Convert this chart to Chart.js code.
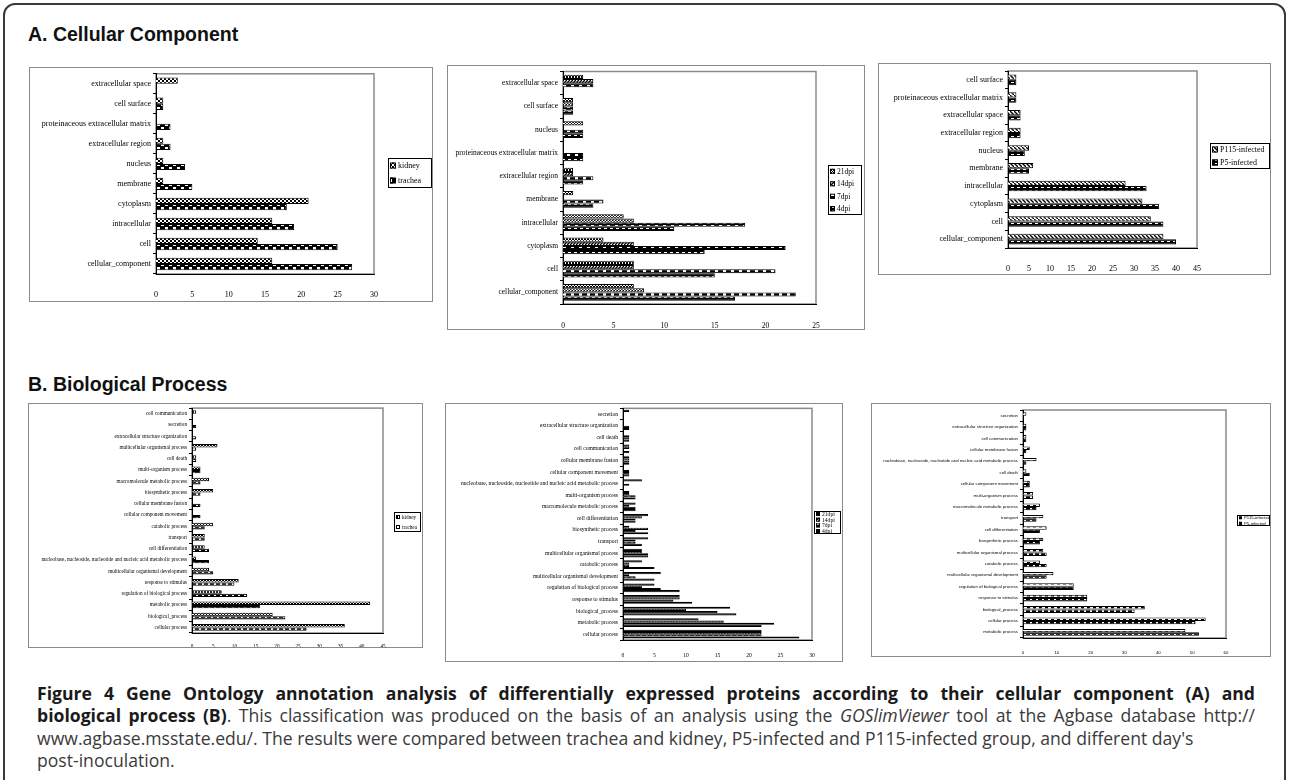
<!DOCTYPE html>
<html>
<head>
<meta charset="utf-8">
<script src="https://cdn.jsdelivr.net/npm/chart.js@4.4.1/dist/chart.umd.min.js"></script>
<style>
body{margin:0;width:1290px;height:780px;background:#fff;position:relative;overflow:hidden;font-family:"Open Sans",sans-serif}
.frame{position:absolute;left:3px;top:3px;width:1279px;height:900px;border:2px solid #3a3a3a;border-radius:12px}
.head{position:absolute;left:28px;font:bold 19.5px/22px "Liberation Sans",Arial,sans-serif;color:#111;white-space:nowrap}
.box{position:absolute;border:1px solid #8a8a8a;box-sizing:border-box}
.cap{position:absolute;left:37px;top:682px;width:1218px;font-size:17.6px;line-height:22.4px;color:#3a3a3a;white-space:nowrap}
.cap b{color:#1a1a1a}
.cap .j{text-align:justify;text-align-last:justify}
</style>
</head>
<body>
<div class="frame"></div>
<div class="head" style="top:23px">A. Cellular Component</div>
<div class="head" style="top:373px">B. Biological Process</div>
<div class="cap">
<div class="j"><b>Figure 4 Gene Ontology annotation analysis of differentially expressed proteins according to their cellular component (A) and</b></div>
<div class="j"><b>biological process (B)</b>. This classification was produced on the basis of an analysis using the <i>GOSlimViewer</i> tool at the Agbase database http://</div>
<div>www.agbase.msstate.edu/. The results were compared between trachea and kidney, P5-infected and P115-infected group, and different day's</div>
<div>post-inoculation.</div>
</div>
<script>
// A. cellular component, trachea vs kidney
const ccTissueCats = ['extracellular space', 'cell surface', 'proteinaceous extracellular matrix', 'extracellular region',
    'nucleus', 'membrane', 'cytoplasm', 'intracellular', 'cell', 'cellular_component'];
const ccKidney  = [3, 1, 0, 1, 1, 1, 21, 16, 14, 16];
const ccTrachea = [0, 1, 2, 2, 4, 5, 18, 19, 25, 27];
const ccTissueTicks = [0, 5, 10, 15, 20, 25, 30];

// A. cellular component, by day post-inoculation
const ccDayCats = ['extracellular space', 'cell surface', 'nucleus', 'proteinaceous extracellular matrix',
    'extracellular region', 'membrane', 'intracellular', 'cytoplasm', 'cell', 'cellular_component'];
const ccDay21 = [2, 1, 2, 0, 1, 1, 6, 4, 7, 7];
const ccDay14 = [3, 1, 0, 0, 1, 0, 7, 7, 7, 8];
const ccDay7  = [3, 1, 2, 2, 3, 4, 18, 22, 21, 23];
const ccDay4  = [0, 1, 2, 2, 2, 3, 11, 14, 15, 17];
const ccDayTicks = [0, 5, 10, 15, 20, 25];

// A. cellular component, P115 vs P5
const ccStrainCats = ['cell surface', 'proteinaceous extracellular matrix', 'extracellular space', 'extracellular region',
    'nucleus', 'membrane', 'intracellular', 'cytoplasm', 'cell', 'cellular_component'];
const ccP115 = [2, 2, 3, 3, 5, 6, 28, 32, 34, 37];
const ccP5   = [2, 2, 3, 3, 4, 5, 33, 36, 37, 40];
const ccStrainTicks = [0, 5, 10, 15, 20, 25, 30, 35, 40, 45];

const NUC = 'nucleobase, nucleoside, nucleotide and nucleic acid metabolic process';

// B. biological process, trachea vs kidney
const bpTissueCats = ['cell communication', 'secretion', 'extracellular structure organization', 'multicellular organismal process',
    'cell death', 'multi-organism process', 'macromolecule metabolic process', 'biosynthetic process', 'cellular membrane fusion',
    'cellular component movement', 'catabolic process', 'transport', 'cell differentiation', NUC,
    'multicellular organismal development', 'response to stimulus', 'regulation of biological process', 'metabolic process',
    'biological_process', 'cellular process'];
const bpKidney  = [1, 0, 0, 6, 1, 2, 4, 5, 0, 0, 5, 3, 3, 1, 4, 11, 7, 42, 19, 36];
const bpTrachea = [0, 1, 1, 1, 1, 2, 2, 2, 2, 2, 3, 3, 4, 4, 5, 10, 13, 16, 22, 27];
const bpTissueTicks = [0, 5, 10, 15, 20, 25, 30, 35, 40, 45];

// B. biological process, by day post-inoculation
const bpDayCats = ['secretion', 'extracellular structure organization', 'cell death', 'cell communication', 'cellular membrane fusion',
    'cellular component movement', NUC, 'multi-organism process', 'macromolecule metabolic process', 'cell differentiation',
    'biosynthetic process', 'transport', 'multicellular organismal process', 'catabolic process',
    'multicellular organismal development', 'regulation of biological process', 'response to stimulus', 'biological_process',
    'metabolic process', 'cellular process'];
const bpDay21 = [1, 0, 0, 1, 1, 0, 3, 1, 2, 4, 1, 4, 3, 3, 6, 5, 9, 17, 12, 22];
const bpDay14 = [0, 0, 1, 1, 1, 1, 0, 1, 1, 3, 4, 2, 3, 1, 1, 3, 9, 10, 16, 22];
const bpDay7  = [0, 1, 1, 0, 1, 1, 1, 2, 2, 2, 2, 2, 4, 1, 2, 6, 8, 15, 24, 22];
const bpDay4  = [0, 1, 1, 1, 1, 1, 0, 2, 2, 2, 4, 3, 4, 5, 5, 9, 11, 18, 22, 28];
const bpDayTicks = [0, 5, 10, 15, 20, 25, 30];

// B. biological process, P115 vs P5
const bpStrainCats = ['secretion', 'extracellular structure organization', 'cell communication', 'cellular membrane fusion', NUC,
    'cell death', 'cellular component movement', 'multi-organism process', 'macromolecule metabolic process', 'transport',
    'cell differentiation', 'biosynthetic process', 'multicellular organismal process', 'catabolic process',
    'multicellular organismal development', 'regulation of biological process', 'response to stimulus', 'biological_process',
    'cellular process', 'metabolic process'];
const bpP115 = [1, 1, 1, 2, 4, 1, 2, 3, 5, 6, 7, 6, 6, 5, 9, 15, 19, 36, 54, 48];
const bpP5   = [0, 1, 1, 1, 1, 2, 2, 3, 4, 4, 5, 5, 7, 7, 7, 15, 19, 33, 51, 52];
const bpStrainTicks = [0, 10, 20, 30, 40, 50, 60];

// excel-ish fill patterns
function tile(w, h, paint) {
    const c = document.createElement('canvas');
    c.width = w; c.height = h;
    const g = c.getContext('2d');
    g.fillStyle = '#fff'; g.fillRect(0, 0, w, h);
    g.fillStyle = '#000'; g.strokeStyle = '#000'; g.lineWidth = 1;
    paint(g, w, h);
    return g.createPattern(c, 'repeat');
}
const PAT = {
    cross: s => tile(s, s, (g, w, h) => { g.beginPath(); g.moveTo(0, 0); g.lineTo(w, h); g.moveTo(w, 0); g.lineTo(0, h); g.stroke(); }),
    diag: s => tile(s, s, (g, w, h) => { g.lineWidth = 1.4; g.beginPath(); g.moveTo(-1, h + 1); g.lineTo(w + 1, -1); g.stroke(); }),
    back: s => tile(s, s, (g, w, h) => { g.lineWidth = 1.4; g.beginPath(); g.moveTo(-1, -1); g.lineTo(w + 1, h + 1); g.stroke(); }),
    checker: s => tile(2 * s, 2 * s, (g, w, h) => { g.fillRect(s, 0, s, s); g.fillRect(0, s, s, s); }),
    bold: s => tile(2 * s, 2 * s, (g, w, h) => { g.fillRect(0, 0, w, h); g.fillStyle = '#fff'; g.fillRect(0, 0, s - 1, s - 1); g.fillRect(s, s, s - 1, s - 1); }),
    blocks: s => tile(2 * s, s, (g, w, h) => { g.fillRect(0, 0, w, h); g.fillStyle = '#fff'; g.fillRect(1, 1, s, h - 2); }),
    dash: s => tile(2 * s, s, (g, w, h) => { g.fillRect(0, 0, s, Math.max(1, h / 2)); })
};

const framePlugin = {
    id: 'frame',
    beforeDraw(chart) {
        const c = chart.ctx, a = chart.chartArea;
        c.save();
        c.fillStyle = '#fff';
        c.fillRect(0, 0, chart.width, chart.height);
        c.strokeStyle = '#8a8a8a';
        c.lineWidth = 1.5;
        c.strokeRect(a.left, a.top, a.width, a.height);
        c.restore();
    },
    afterDraw(chart, args, o) {
        const c = chart.ctx, L = o.legend, ds = chart.data.datasets;
        const row = L.h / ds.length;
        c.save();
        c.fillStyle = '#fff';
        c.fillRect(L.x, L.y, L.w, L.h);
        c.strokeStyle = '#000';
        c.lineWidth = 1;
        c.strokeRect(L.x + 0.5, L.y + 0.5, L.w - 1, L.h - 1);
        c.font = o.size + 'px ' + o.family;
        c.textBaseline = 'middle';
        ds.forEach((d, i) => {
            const cy = L.y + row * (i + 0.5);
            c.fillStyle = d.backgroundColor;
            c.fillRect(L.x + 2, cy - o.sw / 2, o.sw, o.sw);
            c.strokeRect(L.x + 2.5, cy - o.sw / 2 + 0.5, o.sw - 1, o.sw - 1);
            c.fillStyle = '#000';
            c.fillText(d.label, L.x + 3 + o.sw + 1, cy + 0.5);
        });
        c.restore();
    }
};

const SERIF = '"Liberation Serif", "Times New Roman", serif';
const SANS = '"Liberation Sans", Arial, sans-serif';

const panels = [
    { box: {x: 29, y: 67, w: 404, h: 235}, plot: {l: 156, t: 73, r: 374, b: 274}, leg: {x: 388, y: 158, w: 44, h: 30},
      cats: ccTissueCats, ticks: ccTissueTicks, cat: 0.62, font: 8, family: SERIF, xpad: 8, sw: 6,
      series: [['kidney', ccKidney, PAT.cross(4)], ['trachea', ccTrachea, PAT.bold(4)]] },
    { box: {x: 447, y: 65, w: 418, h: 265}, plot: {l: 563, t: 70, r: 816, b: 304}, leg: {x: 828, y: 165, w: 34, h: 50},
      cats: ccDayCats, ticks: ccDayTicks, cat: 0.72, font: 7.5, family: SERIF, xpad: 10, sw: 5,
      series: [['21dpi', ccDay21, PAT.cross(3)], ['14dpi', ccDay14, PAT.diag(3)], ['7dpi', ccDay7, PAT.bold(4)], ['4dpi', ccDay4, PAT.blocks(3)]] },
    { box: {x: 878, y: 63, w: 393, h: 212}, plot: {l: 1008, t: 71, r: 1197, b: 248}, leg: {x: 1210, y: 143, w: 60, h: 26},
      cats: ccStrainCats, ticks: ccStrainTicks, cat: 0.6, font: 8, family: SERIF, xpad: 8, sw: 6,
      series: [['P115-infected', ccP115, PAT.back(4)], ['P5-infected', ccP5, PAT.blocks(3)]] },
    { box: {x: 28, y: 403, w: 395, h: 245}, plot: {l: 192, t: 407, r: 383, b: 633}, leg: {x: 394, y: 512, w: 27, h: 20},
      cats: bpTissueCats, ticks: bpTissueTicks, cat: 0.6, font: 5.2, family: SERIF, xpad: 3, sw: 4,
      series: [['kidney', bpKidney, PAT.cross(3)], ['trachea', bpTrachea, PAT.bold(3)]] },
    { box: {x: 445, y: 403, w: 398, h: 259}, plot: {l: 623, t: 408, r: 812, b: 640}, leg: {x: 814, y: 511, w: 27, h: 23},
      cats: bpDayCats, ticks: bpDayTicks, cat: 0.75, font: 5.6, family: SERIF, xpad: 4, sw: 4,
      series: [['21dpi', bpDay21, PAT.cross(2)], ['14dpi', bpDay14, PAT.diag(3)], ['7dpi', bpDay7, PAT.bold(3)], ['4dpi', bpDay4, PAT.blocks(2)]] },
    { box: {x: 871, y: 403, w: 400, h: 254}, plot: {l: 1023, t: 410, r: 1226, b: 638}, leg: {x: 1237, y: 515, w: 33, h: 11},
      cats: bpStrainCats, ticks: bpStrainTicks, cat: 0.6, font: 4.3, family: SANS, xpad: 4, sw: 3,
      series: [['P115-infected', bpP115, PAT.dash(3)], ['P5-infected', bpP5, PAT.bold(3)]] }
];

function makeChart(p) {
    const cv = document.createElement('canvas');
    cv.width = p.box.w;
    cv.height = p.box.h;
    cv.style.cssText = `position:absolute;left:${p.box.x}px;top:${p.box.y}px`;
    document.body.appendChild(cv);
    const bd = document.createElement('div');
    bd.className = 'box';
    bd.style.cssText = `left:${p.box.x}px;top:${p.box.y}px;width:${p.box.w}px;height:${p.box.h}px`;
    document.body.appendChild(bd);

    const t = p.ticks;
    const font = {family: p.family, size: p.font};
    new Chart(cv, {
        type: 'bar',
        data: {
            labels: p.cats,
            datasets: p.series.map(s => ({
                label: s[0], data: s[1], backgroundColor: s[2],
                borderColor: '#000', borderWidth: 1,
                categoryPercentage: p.cat, barPercentage: 1
            }))
        },
        options: {
            indexAxis: 'y',
            responsive: false,
            animation: false,
            events: [],
            layout: { padding: { left: 0, top: p.plot.t - p.box.y, right: p.box.x + p.box.w - p.plot.r, bottom: 0 } },
            plugins: {
                legend: { display: false },
                tooltip: { enabled: false },
                frame: { legend: { x: p.leg.x - p.box.x, y: p.leg.y - p.box.y, w: p.leg.w, h: p.leg.h },
                         size: p.font, family: p.family, sw: p.sw }
            },
            scales: {
                x: {
                    min: t[0], max: t[t.length - 1],
                    ticks: { stepSize: t[1] - t[0], font: font, color: '#000', padding: p.xpad, maxRotation: 0 },
                    grid: { display: false },
                    border: { color: '#000' },
                    afterFit: s => { s.height = p.box.y + p.box.h - p.plot.b; }
                },
                y: {
                    ticks: { autoSkip: false, font: font, color: '#000', padding: 2 },
                    grid: { drawOnChartArea: false, tickLength: 3, color: '#000', offset: true },
                    border: { color: '#000' },
                    afterFit: s => { s.width = p.plot.l - p.box.x; }
                }
            }
        },
        plugins: [framePlugin]
    });
}

panels.forEach(makeChart);
</script>
</body>
</html>
